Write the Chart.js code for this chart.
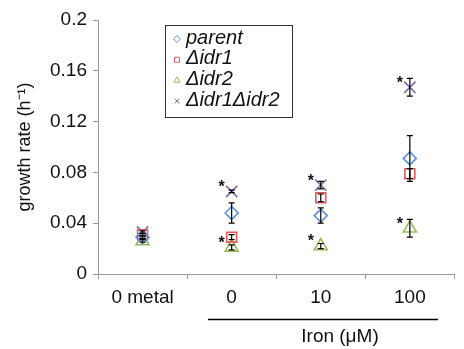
<!DOCTYPE html>
<html>
<head>
<meta charset="utf-8">
<script src="https://cdn.jsdelivr.net/npm/chart.js@4"></script>
<style>
  html, body { margin: 0; padding: 0; background: #fff; }
  #wrap { width: 464px; height: 349px; }
</style>
</head>
<body>
<div id="wrap"><canvas id="growthChart" width="464" height="349"></canvas></div>
<script>
  // data
  const conditions = ['0 metal', '0', '10', '100'];
  const seriesNames = ['parent', 'Δidr1', 'Δidr2', 'Δidr1Δidr2'];
  const parentRate = [0.029, 0.048, 0.046, 0.091];
  const parentErr  = [0.001, 0.008, 0.006, 0.018];
  const idr1Rate   = [0.031, 0.029, 0.060, 0.079];
  const idr1Err    = [0.001, 0.002, 0.003, 0.004];
  const idr2Rate   = [0.026, 0.021, 0.022, 0.036];
  const idr2Err    = [0.001, 0.002, 0.002, 0.007];
  const dblRate    = [0.033, 0.065, 0.070, 0.147];
  const dblErr     = [0.001, 0.001, 0.003, 0.007];
  const yTicks = [0, 0.04, 0.08, 0.12, 0.16, 0.2];
  // significance stars: [condition index, series index]
  const starMarks = [[1, 3], [1, 2], [2, 3], [2, 2], [3, 3], [3, 2]];

  const rates = [parentRate, idr1Rate, idr2Rate, dblRate];
  const errs = [parentErr, idr1Err, idr2Err, dblErr];

  // look
  const colors = ['#5a93d6', '#e05a5a', '#9bbb59', '#8064a2'];
  const markers = ['rectRot', 'rect', 'triangle', 'crossRot'];
  const markerSize = [6.5, 7, 7.5, 8];
  const font = '"Liberation Sans", Arial, sans-serif';

  const errorBars = {
    id: 'errorBars',
    afterDatasetsDraw(chart) {
      const ctx = chart.ctx, y = chart.scales.y;
      ctx.save();
      ctx.strokeStyle = '#000';
      ctx.lineWidth = 1.2;
      chart.data.datasets.forEach((ds, i) => {
        chart.getDatasetMeta(i).data.forEach((pt, j) => {
          const e = errs[i][j];
          const top = y.getPixelForValue(rates[i][j] + e);
          const bot = y.getPixelForValue(rates[i][j] - e);
          ctx.beginPath();
          ctx.moveTo(pt.x, top); ctx.lineTo(pt.x, bot);
          ctx.moveTo(pt.x - 3, top); ctx.lineTo(pt.x + 3, top);
          ctx.moveTo(pt.x - 3, bot); ctx.lineTo(pt.x + 3, bot);
          ctx.stroke();
        });
      });
      // stars
      ctx.fillStyle = '#111';
      ctx.font = 'bold 16px ' + font;
      ctx.textAlign = 'center';
      ctx.textBaseline = 'middle';
      starMarks.forEach(([c, s]) => {
        const pt = chart.getDatasetMeta(s).data[c];
        ctx.fillText('*', pt.x - 10, pt.y - 4);
      });
      ctx.restore();
    }
  };

  const extras = {
    id: 'extras',
    afterDraw(chart) {
      const ctx = chart.ctx, area = chart.chartArea;
      ctx.save();
      // y title
      ctx.fillStyle = '#111';
      ctx.font = '18px ' + font;
      ctx.textAlign = 'center';
      ctx.textBaseline = 'middle';
      ctx.translate(25, (area.top + area.bottom) / 2);
      ctx.rotate(-Math.PI / 2);
      ctx.fillText('growth rate (h\u207B\u00B9)', 0, 0);
      ctx.restore();

      ctx.save();
      // iron bracket + label
      ctx.strokeStyle = '#000';
      ctx.lineWidth = 1.3;
      ctx.beginPath();
      ctx.moveTo(208, 319.5); ctx.lineTo(438, 319.5);
      ctx.stroke();
      ctx.fillStyle = '#111';
      ctx.font = '19px ' + font;
      ctx.textAlign = 'center';
      ctx.textBaseline = 'middle';
      ctx.fillText('Iron (\u03BCM)', 340, 337);

      // legend
      ctx.strokeStyle = '#333';
      ctx.lineWidth = 1;
      ctx.strokeRect(165.5, 25.5, 127, 92);
      ctx.font = 'italic 20px ' + font;
      ctx.textAlign = 'left';
      seriesNames.forEach((name, i) => {
        const ly = 38 + i * 20.7;
        ctx.strokeStyle = colors[i];
        ctx.fillStyle = '#fff';
        Chart.helpers.drawPoint(ctx, {
          pointStyle: markers[i], radius: 3.5, rotation: 0, borderWidth: 1
        }, 177, ly + 1);
        ctx.fillStyle = '#111';
        ctx.fillText(name, 186, ly);
      });
      ctx.restore();
    }
  };

  new Chart(document.getElementById('growthChart').getContext('2d'), {
    type: 'line',
    data: {
      labels: conditions,
      datasets: seriesNames.map((name, i) => ({
        label: name,
        data: rates[i],
        showLine: false,
        pointStyle: markers[i],
        pointRadius: markerSize[i],
        pointBorderColor: colors[i],
        pointBackgroundColor: 'rgba(255,255,255,0)',
        pointBorderWidth: 1.6,
        clip: false
      }))
    },
    options: {
      responsive: false,
      animation: false,
      layout: { padding: { top: 20, right: 0, left: 0, bottom: 0 } },
      plugins: { legend: { display: false }, tooltip: { enabled: false } },
      scales: {
        x: {
          offset: true,
          grid: { display: true, drawOnChartArea: false, offset: true, tickLength: 5, color: '#999' },
          border: { color: '#999' },
          ticks: { font: { size: 19, family: font }, color: '#111', padding: 7, maxRotation: 0 },
          afterFit(s) { s.height = 75; }
        },
        y: {
          min: 0,
          max: 0.2,
          afterBuildTicks(s) { s.ticks = yTicks.map(v => ({ value: v })); },
          grid: { drawOnChartArea: false, tickLength: 5, color: '#999' },
          border: { color: '#999' },
          ticks: { font: { size: 19, family: font }, color: '#111', padding: 6, callback: v => String(v) },
          afterFit(s) { s.width = 98; }
        }
      }
    },
    plugins: [errorBars, extras]
  });
</script>
</body>
</html>
